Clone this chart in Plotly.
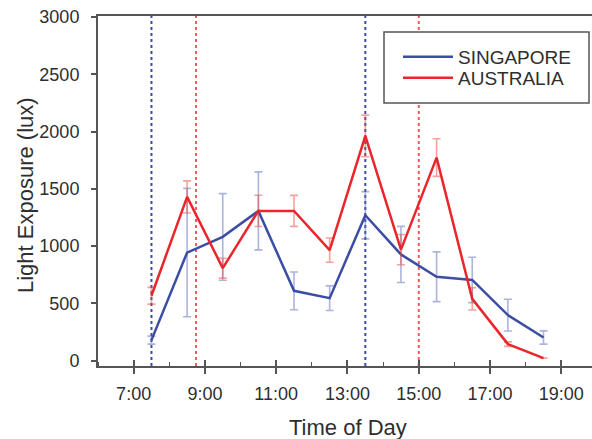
import plotly.graph_objects as go

# ---- data ----
times = [7.5, 8.5, 9.5, 10.5, 11.5, 12.5, 13.5, 14.5, 15.5, 16.5, 17.5, 18.5]
singapore = [180, 944, 1081, 1308, 610, 546, 1270, 928, 733, 705, 398, 203]
singapore_err = [35, 560, 378, 340, 165, 107, 206, 245, 217, 198, 138, 58]
australia = [567, 1430, 808, 1308, 1308, 965, 1962, 970, 1773, 540, 145, 23]
australia_err = [73, 140, 87, 137, 135, 106, 182, 132, 164, 97, 20, 0]

singapore_marks = [7.5, 13.5]
australia_marks = [8.75, 15.0]

x_tickvals = [7, 9, 11, 13, 15, 17, 19]
x_ticktext = ["7:00", "9:00", "11:00", "13:00", "15:00", "17:00", "19:00"]
y_tickvals = [0, 500, 1000, 1500, 2000, 2500, 3000]

x_title = "Time of Day"
y_title = "Light Exposure (lux)"

BLUE = "#3c4ea3"
RED = "#e8262b"
BLUE_ERR = "rgba(90,105,185,0.5)"
RED_ERR = "rgba(235,70,55,0.5)"
FONT = "Liberation Sans, Arial, sans-serif"
TXT = "#2e2e2e"
AX = "#555555"

X_RANGE = [6.0, 19.86]
Y_RANGE = [-46, 3009]

L, R, T, B = 98, 0, 16, 73
W, H = 592, 439
PW, PH = W - L - R, H - T - B

fig = go.Figure()

fig.add_trace(go.Scatter(
    x=times, y=singapore, name="SINGAPORE", mode="lines", legend="legend",
    line=dict(color=BLUE, width=2.5),
    error_y=dict(type="data", array=singapore_err, color=BLUE_ERR, thickness=1.6, width=4),
))
fig.add_trace(go.Scatter(
    x=times, y=australia, name="AUSTRALIA", mode="lines", legend="legend2",
    line=dict(color=RED, width=2.5),
    error_y=dict(type="data", array=australia_err, color=RED_ERR, thickness=1.6, width=4),
))

# invisible trace on overlay axis to get crossing ticks
fig.add_trace(go.Scatter(x=[X_RANGE[0]], y=[0], xaxis="x2", mode="markers",
                         marker=dict(opacity=0), showlegend=False, hoverinfo="skip"))

for xv in singapore_marks:
    fig.add_shape(type="line", xref="x", yref="paper", x0=xv, x1=xv, y0=0, y1=1,
                  line=dict(color=BLUE, width=2, dash="dot"), layer="below")
for xv in australia_marks:
    fig.add_shape(type="line", xref="x", yref="paper", x0=xv, x1=xv, y0=0, y1=1,
                  line=dict(color="#ef5a5a", width=2, dash="dot"), layer="below")

# legend box
fig.add_shape(type="rect", xref="paper", yref="paper",
              x0=(384 - L) / PW, x1=(589 - L) / PW,
              y0=(H - B - 103) / PH, y1=(H - B - 32) / PH,
              line=dict(color=AX, width=1.5), fillcolor="white", layer="above")

# axis titles
fig.add_annotation(text=x_title, xref="paper", yref="paper", x=(348 - L) / PW, y=(H - B - 427) / PH,
                   xanchor="center", yanchor="middle", showarrow=False,
                   font=dict(family=FONT, size=22, color=TXT))
fig.add_annotation(text=y_title, xref="paper", yref="paper", x=(25 - L) / PW, y=(H - B - 195) / PH,
                   xanchor="center", yanchor="middle", showarrow=False, textangle=-90,
                   font=dict(family=FONT, size=22, color=TXT))

legend_common = dict(
    xanchor="left", yanchor="top", bgcolor="rgba(0,0,0,0)", borderwidth=0,
    font=dict(family=FONT, size=19, color=TXT), itemwidth=50,
)

fig.update_layout(
    width=W, height=H,
    margin=dict(l=L, r=R, t=T, b=B, autoexpand=False),
    paper_bgcolor="white", plot_bgcolor="white",
    font=dict(family=FONT, color=TXT, size=18),
    showlegend=True,
    legend=dict(x=(398 - L) / PW, y=(H - B - 38) / PH, **legend_common),
    legend2=dict(x=(398 - L) / PW, y=(H - B - 59) / PH, **legend_common),
    xaxis=dict(
        range=X_RANGE, tickmode="array", tickvals=x_tickvals, ticktext=x_ticktext,
        showgrid=False, zeroline=False, automargin=False,
        showline=True, linecolor=AX, linewidth=2, mirror=True,
        ticks="outside", ticklen=6, tickwidth=1.5, tickcolor=AX,
        minor=dict(ticks="inside", ticklen=4, tickwidth=1.2, tickcolor=AX, dtick=1, tick0=0,
                   showgrid=False),
        ticklabelstandoff=4,
        tickfont=dict(size=18, color=TXT),
    ),
    xaxis2=dict(
        range=X_RANGE, overlaying="x", side="bottom", tickmode="array", tickvals=x_tickvals,
        showticklabels=False, showgrid=False, zeroline=False, showline=False, automargin=False,
        ticks="inside", ticklen=6, tickwidth=1.5, tickcolor=AX,
    ),
    yaxis=dict(
        range=Y_RANGE, tickmode="array", tickvals=y_tickvals,
        showgrid=False, zeroline=False, automargin=False,
        showline=True, linecolor=AX, linewidth=2,
        ticks="outside", ticklen=5, tickwidth=1.5, tickcolor=AX,
        ticklabelstandoff=8,
        tickfont=dict(size=18, color=TXT),
    ),
)

fig.write_html("out.html", config={"displayModeBar": False},
               post_script="document.body.style.margin='0';document.body.style.overflow='hidden';")
